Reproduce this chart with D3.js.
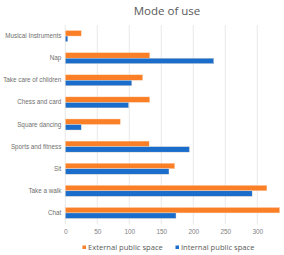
<!DOCTYPE html>
<html>
<head>
<meta charset="utf-8">
<script src="https://cdn.jsdelivr.net/npm/d3@7"></script>
<style>
  body { margin: 0; background: #fff; }
  svg { display: block; font-family: "Open Sans", "DejaVu Sans", sans-serif; }
  .axis path, .axis line { display: none; }
  .axis text { fill: #7f7f7f; font-size: 6.5px; }
</style>
</head>
<body>
<svg width="284" height="255"></svg>
<script>
var categories = ["Musical Instruments", "Nap", "Take care of children", "Chess and card",
                  "Square dancing", "Sports  and fitness", "Sit", "Take a walk", "Chat"];
var external = [25, 132, 121, 132, 86, 131, 171, 315, 335];
var internal = [4, 232, 104, 99, 25, 194, 162, 292, 173];
var seriesNames = ["External public space", "Internal public space"];
var xTicks = [0, 50, 100, 150, 200, 250, 300];

var svg = d3.select("svg"),
    margin = {top: 25, left: 65.3},
    plotW = 224,
    plotH = 199;

var colors = ["#fa7f26", "#1b6dcb"];

var x = d3.scaleLinear().domain([0, 350]).range([margin.left, margin.left + plotW]);
var y = d3.scaleBand().domain(categories).range([margin.top, margin.top + plotH]).paddingInner(0.5).paddingOuter(0.25);
var sub = d3.scaleBand().domain([0, 1]).range([0, y.bandwidth()]);

// title
svg.append("text")
    .attr("x", 167).attr("y", 15)
    .attr("text-anchor", "middle")
    .style("font-size", "11.5px")
    .style("fill", "#595959")
    .text("Mode of use");

// gridlines
svg.append("g").selectAll("line")
  .data(xTicks.concat([350]))
  .enter().append("line")
    .attr("x1", function(d) { return x(d); })
    .attr("x2", function(d) { return x(d); })
    .attr("y1", margin.top)
    .attr("y2", margin.top + plotH)
    .style("stroke", "#e3e3e3")
    .style("stroke-width", 0.8);

// bars
var rows = categories.map(function(c, i) { return {name: c, vals: [external[i], internal[i]]}; });

var group = svg.append("g").selectAll("g")
  .data(rows)
  .enter().append("g")
    .attr("transform", function(d) { return "translate(0," + y(d.name) + ")"; });

group.selectAll("rect")
  .data(function(d) { return d.vals; })
  .enter().append("rect")
    .attr("x", x(0))
    .attr("y", function(d, i) { return sub(i); })
    .attr("width", function(d) { return x(d) - x(0); })
    .attr("height", sub.bandwidth())
    .style("fill", function(d, i) { return colors[i]; })
    .style("stroke", "#fbe3d0")
    .style("stroke-width", 0.4);

// category axis
var yAxis = svg.append("g")
    .attr("class", "axis")
    .attr("transform", "translate(" + (margin.left - 4) + ",0)")
    .call(d3.axisLeft(y).tickSize(0).tickPadding(0));
yAxis.selectAll("text").style("font-size", "6.3px").style("fill", "#6f6f6f");

// value axis
svg.append("g")
    .attr("class", "axis")
    .attr("transform", "translate(0," + (margin.top + plotH) + ")")
    .call(d3.axisBottom(x).tickValues(xTicks).tickSize(0).tickPadding(5));

// legend
var legend = svg.append("g").selectAll("g")
  .data(seriesNames)
  .enter().append("g")
    .attr("transform", function(d, i) { return "translate(" + [82.5, 175.5][i] + ",245)"; });

legend.append("rect")
    .attr("width", 3.5).attr("height", 3.5)
    .attr("y", 0.5)
    .style("fill", function(d, i) { return colors[i]; });

legend.append("text")
    .attr("x", 5.5).attr("y", 5)
    .style("font-size", "7.6px")
    .style("fill", "#595959")
    .text(function(d) { return d; });
</script>
</body>
</html>
